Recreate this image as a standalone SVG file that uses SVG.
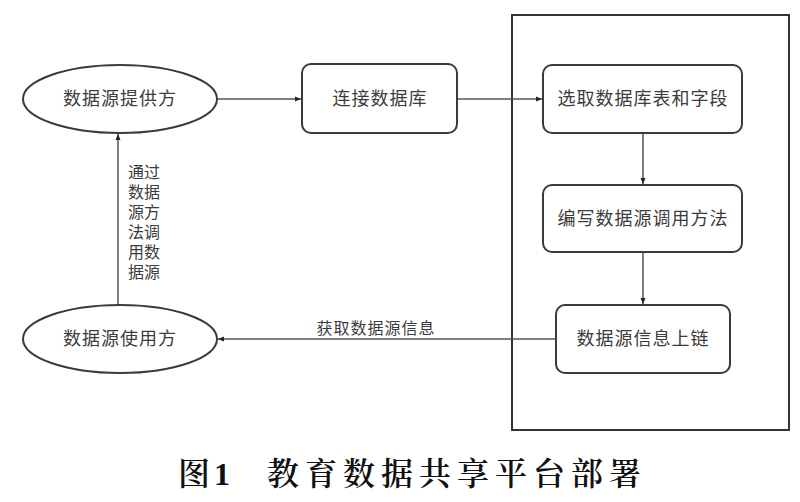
<svg xmlns="http://www.w3.org/2000/svg" width="800" height="502" viewBox="0 0 800 502">
<style>
.node{fill:#fff;stroke:#3a3a3a;stroke-width:2}
.t{font-family:"Noto Sans CJK SC","Noto Sans",sans-serif;font-size:18px;fill:#3c3c3c;text-anchor:middle;letter-spacing:1px}
.lbl{font-family:"Noto Sans CJK SC","Noto Sans",sans-serif;font-size:16px;fill:#3c3c3c}
.edge{fill:none;stroke:#555;stroke-width:1.5}
.cap{font-family:"Noto Serif CJK SC","Noto Sans CJK SC",serif;font-size:32px;fill:#111;font-weight:600}
</style>
<defs>
<marker id="ah" viewBox="0 0 6 6" refX="6" refY="3" markerWidth="6" markerHeight="6" markerUnits="userSpaceOnUse" orient="auto">
<path d="M0,0.5 L6,3 L0,5.5 Z" fill="#222"/>
</marker>
</defs>
<rect width="800" height="502" fill="#fff"/>
<g id="container"><rect x="512" y="15" width="277" height="415" fill="none" stroke="#333" stroke-width="2"/></g>
<g id="connectors">
<line class="edge" x1="217" y1="99" x2="301" y2="99" marker-end="url(#ah)"/>
<line class="edge" x1="457" y1="99" x2="542" y2="99" marker-end="url(#ah)"/>
<line class="edge" x1="643" y1="133" x2="643" y2="184" marker-end="url(#ah)"/>
<line class="edge" x1="643" y1="252" x2="643" y2="304" marker-end="url(#ah)"/>
<line class="edge" x1="556" y1="339" x2="218" y2="339" marker-end="url(#ah)"/>
<line class="edge" x1="118" y1="305" x2="118" y2="134" marker-end="url(#ah)"/>
<text class="lbl" x="376" y="334" text-anchor="middle" font-size="17" letter-spacing="1">获取数据源信息</text>
<g class="lbl">
<text x="128" y="178">通过</text>
<text x="128" y="198">数据</text>
<text x="128" y="218">源方</text>
<text x="128" y="238">法调</text>
<text x="128" y="258">用数</text>
<text x="128" y="278">据源</text>
</g>
</g>
<g id="provider"><ellipse class="node" cx="120" cy="99" rx="97" ry="34"/><text class="t" x="120" y="105">数据源提供方</text></g>
<g id="consumer"><ellipse class="node" cx="120" cy="339" rx="97" ry="34"/><text class="t" x="120" y="345">数据源使用方</text></g>
<g id="connect"><rect class="node" x="302" y="64" width="155" height="69" rx="9"/><text class="t" x="380" y="105">连接数据库</text></g>
<g id="select"><rect class="node" x="543" y="65" width="199" height="68" rx="9"/><text class="t" x="643" y="105">选取数据库表和字段</text></g>
<g id="write"><rect class="node" x="543" y="185" width="199" height="67" rx="9"/><text class="t" x="643" y="225">编写数据源调用方法</text></g>
<g id="chain"><rect class="node" x="556" y="305" width="174" height="68" rx="9"/><text class="t" x="643" y="345">数据源信息上链</text></g>
<g id="caption">
<text class="cap" x="178" y="485">图<tspan font-family="'Liberation Serif',serif" font-weight="bold" dx="4">1</tspan></text>
<text class="cap" x="267" y="485" letter-spacing="6">教育数据共享平台部署</text>
</g>
</svg>
